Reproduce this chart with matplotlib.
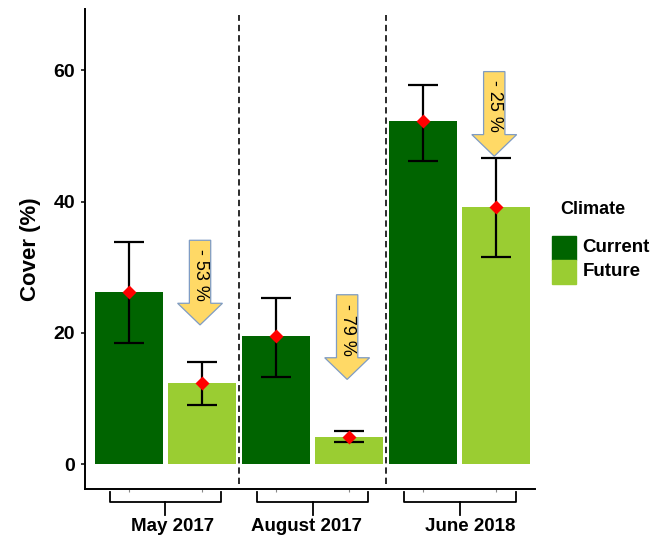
import matplotlib
matplotlib.use("Agg")
import matplotlib.pyplot as plt
from matplotlib.patches import FancyArrow, Rectangle

plt.rcParams['font.family'] = ['Liberation Sans', 'DejaVu Sans']

# ---- data -------------------------------------------------------------
periods = ["May 2017", "August 2017", "June 2018"]
climates = ["Current", "Future"]
current_mean = [26.2, 19.5, 52.2]
future_mean = [12.4, 4.1, 39.2]
current_low = [18.4, 13.3, 46.2]
current_high = [33.8, 25.3, 57.8]
future_low = [9.05, 3.3, 31.5]
future_high = [15.6, 5.1, 46.6]

# tip height of the change arrows drawn above each Future bar
arrow_tip = [21.2, 12.9, 46.9]

# ---- style ------------------------------------------------------------
colors = {"Current": "#006400", "Future": "#9ACD32"}
arrow_fill = "#FFD966"
arrow_edge = "#7F9CC4"

W, H = 656, 541
fig = plt.figure(figsize=(W / 100, H / 100), dpi=100)
ax = fig.add_axes([85 / W, (H - 489) / H, (535 - 85) / W, (489 - 8.6) / H])

n = len(periods)
cur_x = [1 + 2 * i for i in range(n)]
fut_x = [2 + 2 * i for i in range(n)]
bar_w = 0.925

ax.bar(cur_x, current_mean, width=bar_w, color=colors["Current"], zorder=2)
ax.bar(fut_x, future_mean, width=bar_w, color=colors["Future"], zorder=2)

for xs, m, lo, hi in [(cur_x, current_mean, current_low, current_high),
                      (fut_x, future_mean, future_low, future_high)]:
    yerr = [[mi - l for mi, l in zip(m, lo)], [h - mi for mi, h in zip(m, hi)]]
    ax.errorbar(xs, m, yerr=yerr, fmt='none', ecolor='black',
                elinewidth=1.6, capsize=10.5, capthick=1.6, zorder=3)
    ax.plot(xs, m, 'D', color='red', ms=7.4, mec='none', zorder=4)

# dashed separators between sampling periods
ax.vlines([2.5 + 2 * i for i in range(n - 1)], -3.1, 68.4, colors='#1a1a1a',
          linewidth=1.3, linestyles=(0, (3.5, 2.2)), zorder=1)

# change arrows with percentage labels
arrow_len = 12.9
for i in range(n):
    pct = round((future_mean[i] - current_mean[i]) / current_mean[i] * 100)
    label = f"- {abs(pct)} %"
    x = fut_x[i] - 0.03
    top = arrow_tip[i] + arrow_len
    arr = FancyArrow(x, top, 0, -arrow_len, width=0.29, head_width=0.61,
                     head_length=3.3, length_includes_head=True,
                     fc=arrow_fill, ec=arrow_edge, lw=0.9, zorder=5)
    ax.add_patch(arr)
    ax.text(x, top - 5.3, label, rotation=-90, ha='center', va='center',
            fontsize=13, color='black', zorder=6)

# axes styling
ax.set_xlim(0.406, 6.524)
ax.set_ylim(-3.8, 69.4)
ax.set_yticks([0, 20, 40, 60])
ax.set_xticks(cur_x + fut_x)
ax.set_xticklabels([])
for side in ("top", "right"):
    ax.spines[side].set_visible(False)
for side in ("left", "bottom"):
    ax.spines[side].set_linewidth(1.4)
ax.tick_params(axis='y', length=3.2, width=1.1, pad=4, labelsize=14)
ax.tick_params(axis='x', length=2.5, width=0.8, color='#888888')
for lab in ax.get_yticklabels():
    lab.set_fontweight('bold')
ax.set_ylabel("Cover (%)", fontsize=16, fontweight='bold', labelpad=9)

# group brackets and labels below the x axis
label_x = [1.6, 3.42, 5.64]
for i in range(n):
    c = (cur_x[i] + fut_x[i]) / 2
    half = 0.76
    ax.plot([c - half, c - half, c + half, c + half], [-4.2, -5.85, -5.85, -4.2],
            color='black', lw=1.3, clip_on=False, solid_joinstyle='round')
    ax.plot([c, c], [-5.85, -7.8], color='black', lw=1.3, clip_on=False)
    ax.text(label_x[i], -9.5, periods[i], ha='center', va='center',
            fontsize=13.5, fontweight='bold', clip_on=False)

# legend
fig.text(560 / W, 1 - 210 / H, "Climate", fontsize=13, fontweight='bold',
         ha='left', va='center')
key_top = [236, 260]
for j, name in enumerate(climates):
    y0 = key_top[j]
    fig.add_artist(Rectangle((552.3 / W, 1 - (y0 + 23.5) / H), 23.7 / W, 23.5 / H,
                             transform=fig.transFigure, color=colors[name]))
    fig.text(582.7 / W, 1 - (y0 + 11.75) / H, name, fontsize=13.5,
             fontweight='bold', ha='left', va='center')

fig.savefig("out.png", dpi=100)
